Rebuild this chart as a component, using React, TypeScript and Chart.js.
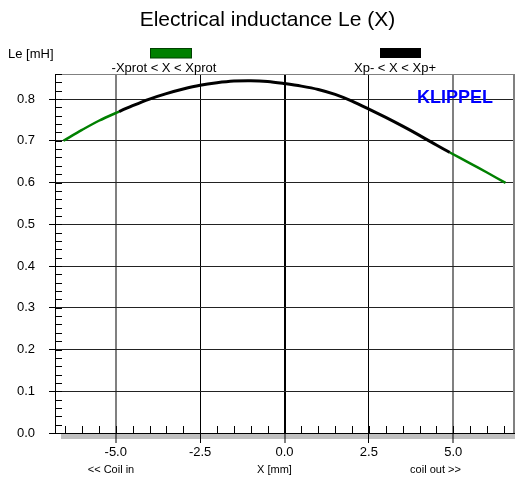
import React, { useEffect, useRef } from "react";
import { Chart, registerables } from "chart.js";

Chart.register(...registerables);

// ---- data ----
const xValues = [-6.55, -6.0, -5.5, -4.9, -4.5, -4.0, -3.5, -3.0, -2.5, -2.0, -1.5, -1.0, -0.5, 0.0, 0.5, 1.0, 1.5, 2.0, 2.5, 3.0, 3.5, 4.0, 4.5, 4.9, 5.5, 6.0, 6.55];
const leValues = [0.700, 0.726, 0.748, 0.770, 0.784, 0.800, 0.813, 0.824, 0.833, 0.839, 0.843, 0.844, 0.842, 0.837, 0.831, 0.823, 0.811, 0.795, 0.776, 0.756, 0.735, 0.713, 0.690, 0.672, 0.646, 0.624, 0.599];
const xpMinus = -4.9;
const xpPlus = 4.9;
const xTicks = [-5, -2.5, 0, 2.5, 5];
const yTicks = [0, 0.1, 0.2, 0.3, 0.4, 0.5, 0.6, 0.7, 0.8];
const xRange = [-6.8, 6.8];
const yRange = [0, 0.86];
const xMinorStep = 0.5;
const yMinorStep = 0.02;

const title = "Electrical inductance Le (X)";
const yAxisTitle = "Le [mH]";
const xAxisTitle = "X [mm]";
const leftNote = "<< Coil in";
const rightNote = "coil out >>";
const legendProt = "-Xprot < X < Xprot";
const legendXp = "Xp- < X < Xp+";
const brand = "KLIPPEL";

const FONT = '"Liberation Sans", Arial, sans-serif';
const GREEN = "#008000";
const BLACK = "#000000";

const decorPlugin = {
  id: "decor",
  beforeDraw(chart: any) {
    const { ctx, chartArea } = chart;
    ctx.save();
    ctx.fillStyle = "#c0c0c0";
    ctx.fillRect(61, chartArea.bottom, chartArea.right - 61 + 1, 6);
    ctx.restore();
  },
  afterDraw(chart: any) {
    const { ctx, chartArea, scales } = chart;
    const xs = scales.x;
    const ys = scales.y;
    ctx.save();
    // top and right borders
    ctx.strokeStyle = "#808080";
    ctx.lineWidth = 1;
    ctx.beginPath();
    ctx.moveTo(chartArea.left, chartArea.top + 0.5);
    ctx.lineTo(chartArea.right + 1, chartArea.top + 0.5);
    ctx.stroke();
    ctx.lineWidth = 2;
    ctx.beginPath();
    ctx.moveTo(chartArea.right, chartArea.top);
    ctx.lineTo(chartArea.right, chartArea.bottom);
    ctx.stroke();

    // minor ticks
    ctx.strokeStyle = "#000";
    ctx.lineWidth = 1;
    ctx.beginPath();
    for (let v = yRange[0]; v <= yRange[1] + 1e-9; v += yMinorStep) {
      const py = Math.round(ys.getPixelForValue(v)) + 0.5;
      ctx.moveTo(chartArea.left, py);
      ctx.lineTo(chartArea.left + 7, py);
    }
    for (let v = -6.5; v <= 6.5 + 1e-9; v += xMinorStep) {
      const px = Math.round(xs.getPixelForValue(v)) + 0.5;
      ctx.moveTo(px, chartArea.bottom);
      ctx.lineTo(px, chartArea.bottom - 7);
    }
    ctx.stroke();

    // texts
    ctx.fillStyle = "#000";
    ctx.textBaseline = "alphabetic";
    ctx.font = `21px ${FONT}`;
    ctx.textAlign = "center";
    ctx.fillText(title, 267.5, 26);

    ctx.font = `13px ${FONT}`;
    ctx.textAlign = "left";
    ctx.fillText(yAxisTitle, 8, 58);

    ctx.textAlign = "center";
    ctx.fillText(legendProt, 164, 72);
    ctx.fillText(legendXp, 395, 72);

    // legend swatches
    ctx.fillStyle = GREEN;
    ctx.fillRect(150, 48.5, 41, 9.5);
    ctx.strokeStyle = "#004000";
    ctx.lineWidth = 1;
    ctx.strokeRect(150.5, 48.5, 41, 9.5);
    ctx.fillStyle = BLACK;
    ctx.fillRect(380, 48, 41, 10);

    ctx.fillStyle = "#000";
    ctx.font = `11px ${FONT}`;
    ctx.fillText(leftNote, 111, 473);
    ctx.fillText(xAxisTitle, 274.5, 473);
    ctx.fillText(rightNote, 435.5, 473);

    ctx.fillStyle = "#0000ff";
    ctx.font = `bold 18px ${FONT}`;
    ctx.textAlign = "left";
    ctx.fillText(brand, 417, 103);
    ctx.restore();
  },
};

export default function App() {
  const canvasRef = useRef<HTMLCanvasElement | null>(null);

  useEffect(() => {
    if (!canvasRef.current) return;
    const points = xValues.map((x, i) => ({ x, y: leValues[i] }));
    const chart = new Chart(canvasRef.current, {
      type: "line",
      data: {
        datasets: [
          {
            data: points,
            borderColor: GREEN,
            borderWidth: 2.5,
            pointRadius: 0,
            tension: 0.3,
            fill: false,
            segment: {
              borderColor: (ctx: any) =>
                ctx.p0.parsed.x >= xpMinus - 1e-9 && ctx.p1.parsed.x <= xpPlus + 1e-9 ? BLACK : GREEN,
              borderWidth: (ctx: any) =>
                ctx.p0.parsed.x >= xpMinus - 1e-9 && ctx.p1.parsed.x <= xpPlus + 1e-9 ? 3 : 2.5,
            },
          } as any,
        ],
      },
      options: {
        responsive: false,
        animation: false,
        events: [],
        layout: { padding: { top: 74, right: 2, left: 0, bottom: 0 } },
        font: { family: FONT },
        plugins: {
          legend: { display: false },
          title: { display: false },
          tooltip: { enabled: false },
        },
        scales: {
          x: {
            type: "linear",
            min: xRange[0],
            max: xRange[1],
            afterBuildTicks: (s: any) => {
              s.ticks = xTicks.map((v) => ({ value: v }));
            },
            afterFit: (s: any) => {
              s.height = 44;
            },
            ticks: {
              autoSkip: false,
              maxRotation: 0,
              padding: 2,
              color: "#000",
              font: { family: FONT, size: 13 },
              callback: (v: any) => Number(v).toFixed(1),
            },
            grid: {
              color: (c: any) => {
                const v = c.tick ? c.tick.value : 0;
                return Math.abs(Math.abs(v) - 5) < 1e-6 ? "#808080" : "#000";
              },
              lineWidth: (c: any) => {
                const v = c.tick ? c.tick.value : 0;
                if (Math.abs(v) < 1e-6) return 2;
                if (Math.abs(Math.abs(v) - 5) < 1e-6) return 2;
                return 1;
              },
              tickLength: 10,
              tickColor: "#000",
              tickWidth: 1,
            },
            border: { display: true, color: "#000", width: 1 },
          },
          y: {
            type: "linear",
            min: yRange[0],
            max: yRange[1],
            afterBuildTicks: (s: any) => {
              s.ticks = yTicks.map((v) => ({ value: v }));
            },
            afterFit: (s: any) => {
              s.width = 55;
            },
            ticks: {
              autoSkip: false,
              padding: 14,
              color: "#000",
              font: { family: FONT, size: 13 },
              callback: (v: any) => Number(v).toFixed(1),
            },
            grid: {
              color: "#222",
              lineWidth: 1,
              tickLength: 6,
              tickColor: "#000",
            },
            border: { display: true, color: "#000", width: 1 },
          },
        },
      },
      plugins: [decorPlugin],
    } as any);
    return () => chart.destroy();
  }, []);

  return (
    <div style={{ position: "absolute", left: 0, top: 0, width: 516, height: 477, background: "#fff" }}>
      <canvas ref={canvasRef} width={516} height={477} style={{ display: "block" }} />
    </div>
  );
}
